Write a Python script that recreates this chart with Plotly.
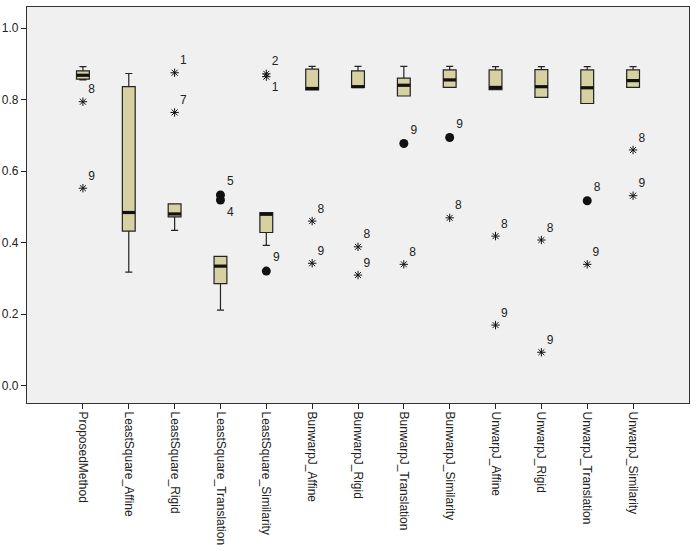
import plotly.graph_objects as go

categories = ["ProposedMethod", "LeastSquare_Affine", "LeastSquare_Rigid", "LeastSquare_Translation",
              "LeastSquare_Similarity", "BunwarpJ_Affine", "BunwarpJ_Rigid", "BunwarpJ_Translation",
              "BunwarpJ_Similarity", "UnwarpJ_Affine", "UnwarpJ_Rigid", "UnwarpJ_Translation",
              "UnwarpJ_Similarity"]
lower  = [0.855, 0.317, 0.434, 0.211, 0.392, 0.827, 0.834, 0.810, 0.834, 0.828, 0.806, 0.789, 0.834]
q1     = [0.857, 0.432, 0.472, 0.285, 0.428, 0.827, 0.834, 0.810, 0.834, 0.828, 0.806, 0.789, 0.834]
median = [0.868, 0.484, 0.480, 0.334, 0.479, 0.831, 0.836, 0.840, 0.855, 0.834, 0.836, 0.833, 0.853]
q3     = [0.880, 0.836, 0.508, 0.361, 0.484, 0.885, 0.880, 0.860, 0.883, 0.883, 0.884, 0.883, 0.883]
upper  = [0.892, 0.873, 0.508, 0.361, 0.484, 0.893, 0.893, 0.893, 0.893, 0.892, 0.892, 0.892, 0.892]

# outliers: category index, value, case label, kind (star = extreme, circle = outlier), label side
out_cat   = [0, 0, 2, 2, 3, 3, 4, 4, 4, 5, 5, 6, 6, 7, 7, 8, 8, 9, 9, 10, 10, 11, 11, 12, 12]
out_val   = [0.794, 0.552, 0.875, 0.764, 0.533, 0.519, 0.872, 0.864, 0.320, 0.460, 0.342, 0.388, 0.309,
             0.677, 0.339, 0.694, 0.469, 0.418, 0.169, 0.407, 0.093, 0.517, 0.339, 0.659, 0.531]
out_label = ["8", "9", "1", "7", "5", "4", "2", "1", "9", "8", "9", "8", "9",
             "9", "8", "9", "8", "8", "9", "8", "9", "8", "9", "8", "9"]
out_kind  = ["star", "star", "star", "star", "circle", "circle", "star", "star", "circle", "star", "star",
             "star", "star", "circle", "star", "circle", "star", "star", "star", "star", "star",
             "circle", "star", "star", "star"]
out_side  = ["top", "top", "top", "top", "top", "bottom", "top", "bottom", "top", "top", "top", "top", "top",
             "top", "top", "top", "top", "top", "top", "top", "top", "top", "top", "top", "top"]

xs = list(range(len(categories)))
BOX_W = 0.28
FILL = "#D6D1A3"
EDGE = "#222222"

fig = go.Figure()
fig.add_trace(go.Box(
    x=xs, q1=q1, median=median, q3=q3, lowerfence=lower, upperfence=upper,
    width=BOX_W, whiskerwidth=0.55, boxpoints=False,
    fillcolor=FILL, line=dict(color=EDGE, width=1.2), showlegend=False, hoverinfo="skip"))

# thick median lines
mx, my = [], []
for i, m in zip(xs, median):
    mx += [i - BOX_W / 2, i + BOX_W / 2, None]
    my += [m, m, None]
fig.add_trace(go.Scatter(x=mx, y=my, mode="lines", line=dict(color="#111111", width=3.2),
                         showlegend=False, hoverinfo="skip"))

for kind, sym, size, lw in [("star", "asterisk-open", 7, 1.0), ("circle", "circle", 9, 0)]:
    for side in ["top", "bottom"]:
        idx = [k for k in range(len(out_val)) if out_kind[k] == kind and out_side[k] == side]
        if not idx:
            continue
        fig.add_trace(go.Scatter(
            x=[out_cat[k] for k in idx], y=[out_val[k] for k in idx],
            mode="markers+text", text=[out_label[k] for k in idx],
            textposition=side + " right",
            textfont=dict(family="Liberation Sans, Arial, sans-serif", size=12, color="#222222"),
            marker=dict(symbol=sym, size=size, color="#111111", line=dict(color="#333333", width=lw)),
            showlegend=False, hoverinfo="skip"))

fig.update_layout(
    width=697, height=554,
    margin=dict(l=27, r=8, t=7, b=151),
    paper_bgcolor="white", plot_bgcolor="#F0F0F0",
    font=dict(family="Liberation Sans, Arial, sans-serif", size=12, color="#222222"),
)
fig.update_xaxes(
    range=[-1.22, 13.22], tickmode="array", tickvals=xs, ticktext=categories, automargin=False,
    tickangle=90, ticks="outside", ticklen=5, tickcolor="#222222",
    showgrid=False, zeroline=False, showline=True, linecolor="#333333", linewidth=1.2, mirror=True)
fig.update_yaxes(
    range=[-0.049, 1.059], tickvals=[0.0, 0.2, 0.4, 0.6, 0.8, 1.0], tickformat=".1f", automargin=False,
    ticks="outside", ticklen=5, tickcolor="#222222",
    showgrid=False, zeroline=False, showline=True, linecolor="#333333", linewidth=1.2, mirror=True)

fig.write_html("out.html", config={"displayModeBar": False},
               post_script="document.body.style.margin='0px';document.body.style.overflow='hidden';")
